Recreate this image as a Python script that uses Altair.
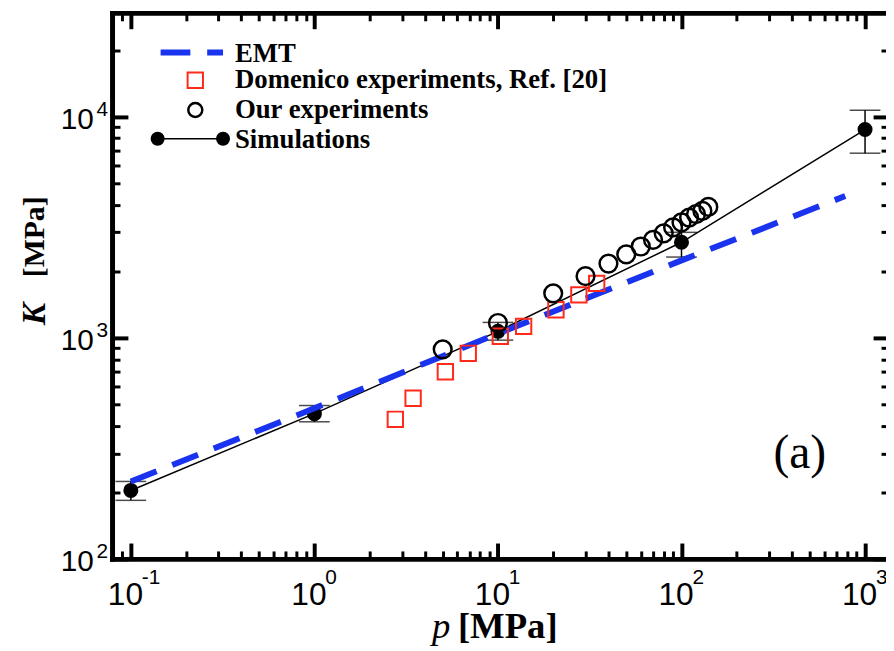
import altair as alt
import pandas as pd

# ---------------- data ----------------
sim_p = [0.1, 1, 10, 100, 1000]
sim_K = [204, 454, 1070, 2705, 8750]
sim_K_low = [184, 417, 976, 2319, 6840]
sim_K_high = [224, 494, 1174, 3000, 10700]

emt_p = [0.1, 1, 10, 100, 780]
emt_K = [224, 480, 1045, 2240, 4380]

dom_p = [2.76, 3.45, 5.17, 6.89, 10.3, 13.8, 20.7, 27.6, 34.5]
dom_K = [428, 533, 702, 851, 1016, 1127, 1339, 1563, 1762]

our_p = [5, 10, 20, 30, 40, 50, 60, 70, 80, 90, 100, 110, 120, 130, 140]
our_K = [887, 1167, 1589, 1900, 2167, 2383, 2588, 2773, 2966, 3158, 3326, 3500, 3624, 3750, 3908]

x_major = [0.1, 1, 10, 100, 1000]
x_major_exp = ["-1", "0", "1", "2", "3"]
x_minor = [0.09, 0.2, 0.3, 0.4, 0.5, 0.6, 0.7, 0.8, 0.9,
           2, 3, 4, 5, 6, 7, 8, 9,
           20, 30, 40, 50, 60, 70, 80, 90,
           200, 300, 400, 500, 600, 700, 800, 900]
y_major = [100, 1000, 10000]
y_major_exp = ["2", "3", "4"]
y_minor = [200, 300, 400, 500, 600, 700, 800, 900,
           2000, 3000, 4000, 5000, 6000, 7000, 8000, 9000, 20000]

legend_labels = ["EMT", "Domenico experiments, Ref. [20]", "Our experiments", "Simulations"]

# ---------------- tables ----------------
sim_df = pd.DataFrame({"p": sim_p, "K": sim_K, "lo": sim_K_low, "hi": sim_K_high})
emt_df = pd.DataFrame({"p": emt_p, "K": emt_K})
dom_df = pd.DataFrame({"p": dom_p, "K": dom_K})
our_df = pd.DataFrame({"p": our_p, "K": our_K})
xexp_df = pd.DataFrame({"v": x_major, "e": x_major_exp})
yexp_df = pd.DataFrame({"v": y_major, "e": y_major_exp})
one = pd.DataFrame({"k": [0]})

W, H = 784, 551
SERIF = "Liberation Serif"
SANS = "Liberation Sans Narrow, Arial Narrow, Liberation Sans"

xs = alt.Scale(type="log", domain=[0.079, 1350], nice=False)
ys = alt.Scale(type="log", domain=[100, 29500], nice=False)

IS_MAJOR = "abs(log(datum.value)/LN10 - round(log(datum.value)/LN10)) < 0.001"
TS = IS_MAJOR + " ? -16 : -8"
TW = IS_MAJOR + " ? 4 : 3"

common_axis = dict(
    tickSize=alt.ExprRef(TS), tickWidth=alt.ExprRef(TW), tickColor="black",
    domainColor="black", domainWidth=5, domainCap="square", grid=False, title=None,
    labelOverlap=False, labelFlush=False, labelBound=False, labelColor="black",
    labelFont=SANS,
)

x_axis = alt.Axis(orient="bottom", values=x_major + x_minor, labelExpr=IS_MAJOR + " ? '10' : ''",
                  labelFontSize=32, labelPadding=37, labelOffset=-6,
                  labelBaseline="top", labelAlign="center", **common_axis)
y_axis = alt.Axis(orient="left", values=y_major + y_minor, labelExpr=IS_MAJOR + " ? '10' : ''",
                  labelFontSize=30, labelPadding=35, labelOffset=3,
                  labelBaseline="middle", labelAlign="right", **common_axis)


def text_at(txt, x, y, **kw):
    return alt.Chart(one).mark_text(text=txt, color="black", **kw).encode(
        x=alt.value(x), y=alt.value(y))


# ---------------- data layers ----------------
sim_line = alt.Chart(sim_df).mark_line(color="black", strokeWidth=1.5).encode(
    x=alt.X("p:Q", scale=xs, axis=x_axis), y=alt.Y("K:Q", scale=ys, axis=y_axis))
sim_err = alt.Chart(sim_df).mark_rule(color="black", strokeWidth=1.5).encode(
    x=alt.X("p:Q", scale=xs, axis=None), y=alt.Y("lo:Q", scale=ys, axis=None), y2="hi:Q")
sim_cap_lo = alt.Chart(sim_df).mark_tick(color="black", orient="horizontal", size=31, thickness=1.5).encode(
    x=alt.X("p:Q", scale=xs, axis=None), y=alt.Y("lo:Q", scale=ys, axis=None))
sim_cap_hi = alt.Chart(sim_df).mark_tick(color="black", orient="horizontal", size=31, thickness=1.5).encode(
    x=alt.X("p:Q", scale=xs, axis=None), y=alt.Y("hi:Q", scale=ys, axis=None))
sim_pts = alt.Chart(sim_df).mark_point(shape="circle", filled=True, color="black", size=230, opacity=1).encode(
    x=alt.X("p:Q", scale=xs, axis=None), y=alt.Y("K:Q", scale=ys, axis=None))

emt_line = alt.Chart(emt_df).mark_line(color="#1a33ee", strokeWidth=6, strokeDash=[28, 17]).encode(
    x=alt.X("p:Q", scale=xs, axis=None), y=alt.Y("K:Q", scale=ys, axis=None))

dom_pts = alt.Chart(dom_df).mark_point(shape="square", filled=False, color="#ff2a1a", size=240,
                                       strokeWidth=2, opacity=1).encode(
    x=alt.X("p:Q", scale=xs, axis=None), y=alt.Y("K:Q", scale=ys, axis=None))

our_pts = alt.Chart(our_df).mark_point(shape="circle", filled=False, color="black", size=320,
                                       strokeWidth=2.5, opacity=1).encode(
    x=alt.X("p:Q", scale=xs, axis=None), y=alt.Y("K:Q", scale=ys, axis=None))

# exponents of the tick labels
x_exp = alt.Chart(xexp_df).mark_text(font=SANS, fontSize=21, align="left", baseline="top",
                                     dx=11, color="black").encode(
    x=alt.X("v:Q", scale=xs, axis=None), y=alt.value(H + 8), text="e:N")
y_exp = alt.Chart(yexp_df).mark_text(font=SANS, fontSize=21, align="right", baseline="middle",
                                     dy=-7, color="black").encode(
    x=alt.value(-4), y=alt.Y("v:Q", scale=ys, axis=None), text="e:N")

# axis titles
x_title_p = text_at("p", 332, 631, font=SERIF, fontSize=37, fontStyle="italic",
                    align="center", baseline="alphabetic")
x_title_u = text_at("[MPa]", 349, 631, font=SERIF, fontSize=37, fontWeight="bold",
                    align="left", baseline="alphabetic")
y_title_k = text_at("K", -78, 304, font=SERIF, fontSize=34, fontStyle="italic", fontWeight="bold",
                    angle=270, align="center", baseline="middle")
y_title_u = text_at("[MPa]", -78, 226, font=SERIF, fontSize=30, fontWeight="bold",
                    angle=270, align="center", baseline="middle")

panel = text_at("(a)", 694, 445, font=SERIF, fontSize=48, align="center", baseline="middle")

# legend
leg_emt = alt.Chart(one).mark_rule(color="#1a33ee", strokeWidth=6, strokeDash=[30, 17]).encode(
    x=alt.value(49), x2=alt.value(112), y=alt.value(40))
leg_dom = alt.Chart(one).mark_point(shape="square", filled=False, color="#ff2a1a", size=240,
                                    strokeWidth=2, opacity=1).encode(
    x=alt.value(84), y=alt.value(68))
leg_our = alt.Chart(one).mark_point(shape="circle", filled=False, color="black", size=200,
                                    strokeWidth=2.5, opacity=1).encode(
    x=alt.value(84), y=alt.value(98))
leg_sim_line = alt.Chart(one).mark_rule(color="black", strokeWidth=1.5).encode(
    x=alt.value(46), x2=alt.value(112), y=alt.value(127))
leg_sim_a = alt.Chart(one).mark_point(shape="circle", filled=True, color="black", size=200,
                                      opacity=1).encode(x=alt.value(46), y=alt.value(127))
leg_sim_b = alt.Chart(one).mark_point(shape="circle", filled=True, color="black", size=200,
                                      opacity=1).encode(x=alt.value(112), y=alt.value(127))
leg_y = [42, 68, 98, 128]
legend_text_layers = [
    text_at(lab, 124, leg_y[i], font=SERIF, fontSize=27, fontWeight="bold",
            align="left", baseline="middle")
    for i, lab in enumerate(legend_labels)
]

mirror = alt.Chart(sim_df).mark_point(opacity=0).encode(
    x=alt.X("p:Q", scale=xs, axis=alt.Axis(orient="top", values=x_major + x_minor, labels=False,
                                           **common_axis)),
    y=alt.Y("K:Q", scale=ys, axis=alt.Axis(orient="right", values=y_major + y_minor, labels=False,
                                           **common_axis)))

chart = alt.layer(sim_line, sim_err, sim_cap_lo, sim_cap_hi, sim_pts, emt_line, dom_pts, our_pts,
                  x_exp, y_exp, x_title_p, x_title_u, y_title_k, y_title_u, panel,
                  leg_emt, leg_dom, leg_our, leg_sim_line, leg_sim_a, leg_sim_b,
                  *legend_text_layers, mirror
                  ).resolve_axis(x="independent", y="independent").properties(
    width=W, height=H,
    autosize=alt.AutoSizeParams(type="none"),
    padding={"left": 105, "top": 2, "right": -3, "bottom": 86},
    background="white",
).configure_view(stroke=None)

chart.save("out.html", embed_options={"renderer": "svg", "actions": False})
